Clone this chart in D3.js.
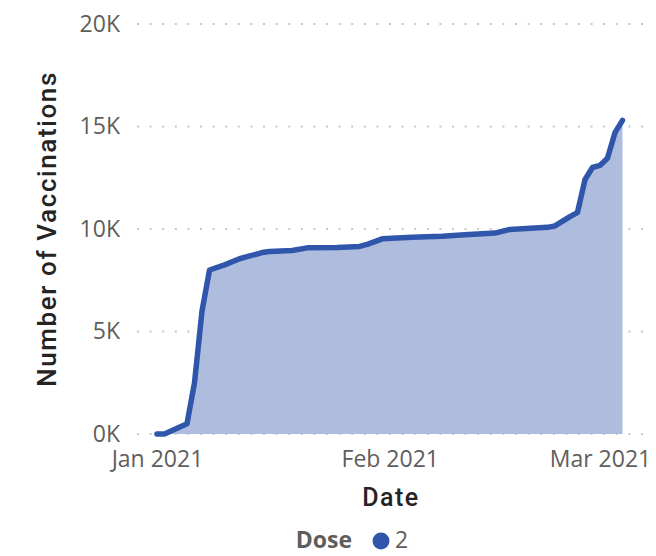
<!DOCTYPE html>
<html>
<head>
<meta charset="utf-8">
<script src="https://cdn.jsdelivr.net/npm/d3@7"></script>
<style>
  body { margin: 0; background: #fff; }
  svg { display: block; }
</style>
</head>
<body>
<div id="chart"></div>
<script>
// cumulative 2nd dose vaccinations
let dates = [
    '2021-01-01', '2021-01-02', '2021-01-05', '2021-01-06', '2021-01-07', '2021-01-08',
    '2021-01-10', '2021-01-12', '2021-01-13', '2021-01-15', '2021-01-16', '2021-01-19',
    '2021-01-21', '2021-01-25', '2021-01-28', '2021-01-29', '2021-01-31', '2021-02-04',
    '2021-02-08', '2021-02-11', '2021-02-15', '2021-02-17', '2021-02-22', '2021-02-23',
    '2021-02-25', '2021-02-26', '2021-02-27', '2021-02-28', '2021-03-01', '2021-03-02',
    '2021-03-03', '2021-03-04'
];
let values = [
    0, 0, 500, 2500, 6000, 8000,
    8250, 8550, 8650, 8850, 8900, 8950,
    9080, 9100, 9150, 9250, 9520, 9600,
    9650, 9720, 9800, 9980, 10080, 10150,
    10600, 10800, 12400, 13000, 13100, 13450,
    14700, 15300
];
let y_ticks = [0, 5000, 10000, 15000, 20000];
let x_ticks = ['2021-01-01', '2021-02-01', '2021-03-01'];
let legend_title = 'Dose';
let legend_items = ['2'];

let width = 656, height = 556;
let plot = { left: 137, right: 645, top: 24, bottom: 434 };
let line_color = '#2F56AB';
let area_color = '#AEBCDE';

let parse = d3.utcParse('%Y-%m-%d');
let data = dates.map((d, i) => ({ date: parse(d), value: values[i] }));

let day = 24 * 3600 * 1000;
let x = d3.scaleUtc()
    .domain([new Date(parse('2021-01-01') - 2.66 * day), new Date(+parse('2021-01-01') + 65 * day)])
    .range([plot.left, plot.right]);
let y = d3.scaleLinear()
    .domain([0, 20000])
    .range([plot.bottom, plot.top]);

let svg = d3.select('#chart')
    .append('svg')
    .attr('width', width)
    .attr('height', height);

// grid lines (dotted)
svg.append('g')
    .selectAll('line')
    .data(y_ticks)
    .join('line')
    .attr('x1', plot.left)
    .attr('x2', plot.right)
    .attr('y1', d => y(d))
    .attr('y2', d => y(d))
    .style('stroke', '#C8C8C8')
    .style('stroke-width', '2px')
    .style('stroke-dasharray', '2 10.6');

// y axis
let yAxis = svg.append('g')
    .attr('transform', 'translate(' + (plot.left - 17) + ',0)')
    .call(d3.axisLeft(y).tickValues(y_ticks).tickSize(0).tickPadding(0)
        .tickFormat(d => (d / 1000) + 'K'));
yAxis.select('.domain').remove();
yAxis.selectAll('text')
    .style('font-family', '"Open Sans", sans-serif')
    .style('font-size', '23px')
    .style('fill', '#605E5C');

// x axis
let xAxis = svg.append('g')
    .attr('transform', 'translate(0,' + plot.bottom + ')')
    .call(d3.axisBottom(x).tickValues(x_ticks.map(parse)).tickSize(0).tickPadding(0)
        .tickFormat(d3.utcFormat('%b %Y')));
xAxis.select('.domain').remove();
xAxis.selectAll('text')
    .attr('dy', null)
    .attr('y', 33)
    .style('font-family', '"Open Sans", sans-serif')
    .style('font-size', '23px')
    .style('fill', '#605E5C');

// area + line
svg.append('path')
    .datum(data)
    .attr('d', d3.area().x(d => x(d.date)).y0(y(0)).y1(d => y(d.value)))
    .style('fill', area_color);

svg.append('path')
    .datum(data)
    .attr('d', d3.line().x(d => x(d.date)).y(d => y(d.value)))
    .style('fill', 'none')
    .style('stroke', line_color)
    .style('stroke-width', '5.5px')
    .style('stroke-linejoin', 'round')
    .style('stroke-linecap', 'round');

// axis titles
svg.append('text')
    .attr('transform', 'translate(56,' + ((plot.top + plot.bottom) / 2) + ') rotate(-90)')
    .style('text-anchor', 'middle')
    .style('font-family', 'Roboto, sans-serif')
    .style('font-weight', '500')
    .style('font-size', '26px')
    .style('letter-spacing', '1.6px')
    .style('fill', '#252423')
    .text('Number of Vaccinations');

svg.append('text')
    .attr('x', 391)
    .attr('y', 506)
    .style('text-anchor', 'middle')
    .style('font-family', 'Roboto, sans-serif')
    .style('font-weight', '500')
    .style('font-size', '25px')
    .style('letter-spacing', '1.5px')
    .style('fill', '#252423')
    .text('Date');

// legend
let legend = svg.append('g');
legend.append('text')
    .attr('x', 352)
    .attr('y', 548)
    .style('text-anchor', 'end')
    .style('font-family', '"Open Sans", sans-serif')
    .style('font-weight', 'bold')
    .style('font-size', '23px')
    .style('fill', '#605E5C')
    .text(legend_title);
legend.selectAll('circle')
    .data(legend_items)
    .join('circle')
    .attr('cx', 381)
    .attr('cy', 541)
    .attr('r', 8.5)
    .style('fill', line_color);
legend.selectAll('text.item')
    .data(legend_items)
    .join('text')
    .attr('class', 'item')
    .attr('x', 395)
    .attr('y', 548)
    .style('font-family', '"Open Sans", sans-serif')
    .style('font-size', '23px')
    .style('fill', '#605E5C')
    .text(d => d);
</script>
</body>
</html>
